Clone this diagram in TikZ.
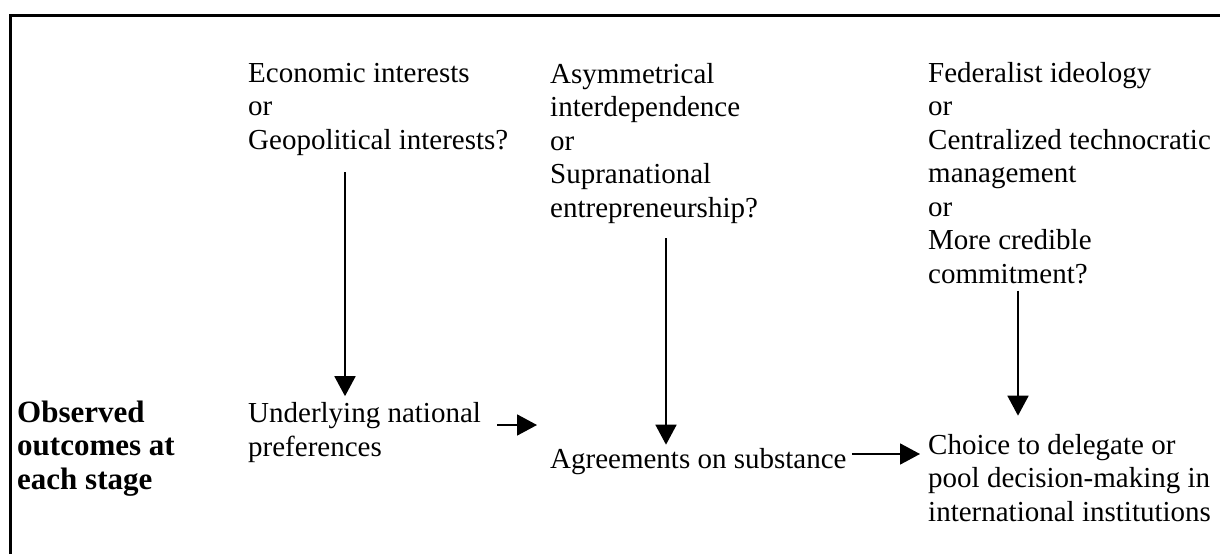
\documentclass[tikz,border=0pt]{standalone}
\usepackage{fontspec}
\setmainfont{Liberation Serif}
\usepackage{tikz}
\usetikzlibrary{arrows.meta}

\begin{document}
\begin{tikzpicture}[
    x=1pt, y=-1pt,
    factor/.style={inner sep=0pt, anchor=base west, align=left, font=\fontsize{29}{33.5}\selectfont},
    heading/.style={factor, font=\fontsize{31}{33.5}\selectfont\bfseries},
    arrow/.style={line width=1.8pt, -{Triangle[length=20pt, width=21pt]}},
    frame/.style={line width=3pt}
]
\useasboundingbox (0,0) rectangle (1220,554);

% Frame
\draw [frame] (10,554) |- (1220,15);

% Nodes (placed by the baseline of their last line)
\node (econ) [factor] at (248,149) {Economic interests\\or\\Geopolitical interests?};
\node (asym) [factor] at (550,217) {Asymmetrical\\interdependence\\or\\Supranational\\entrepreneurship?};
\node (fed) [factor] at (928,283) {Federalist ideology\\or\\Centralized technocratic\\management\\or\\More credible\\commitment?};
\node (observed) [heading] at (17,489) {Observed\\outcomes at\\each stage};
\node (prefs) [factor] at (248,456) {Underlying national\\preferences};
\node (agree) [factor] at (550,468) {Agreements on substance};
\node (choice) [factor] at (928,521) {Choice to delegate or\\pool decision-making in\\international institutions};

% Arrows
\draw [arrow, shorten <=17pt, shorten >=6pt] ([xshift=97pt]econ.south west) -- ([xshift=97pt]prefs.north west);
\draw [arrow, shorten <=15pt, shorten >=3pt] ([xshift=116pt]asym.south west) -- ([xshift=116pt]agree.north west);
\draw [arrow, shorten <=7pt, shorten >=18pt] ([xshift=90pt]fed.south west) -- ([xshift=90pt]choice.north west);
\draw [arrow, shorten <=16pt, shorten >=13pt] ([yshift=31pt]prefs.base east) -- ([yshift=31pt]prefs.base east -| agree.west);
\draw [arrow, shorten <=5pt, shorten >=8pt] ([yshift=14pt]agree.base east) -- ([yshift=14pt]agree.base east -| choice.west);

\end{tikzpicture}
\end{document}
